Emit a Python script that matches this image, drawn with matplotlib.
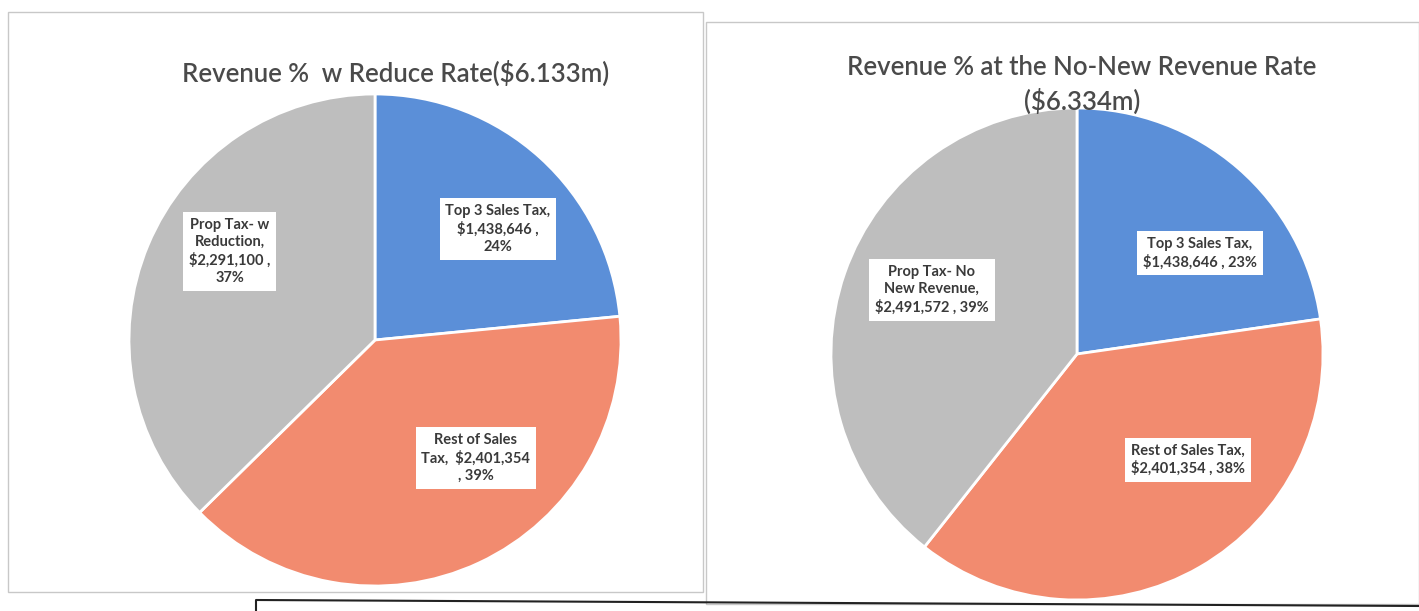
import matplotlib
matplotlib.use("Agg")
import matplotlib.pyplot as plt
from matplotlib.patches import Rectangle
from matplotlib.lines import Line2D

# ---- data ----
categories_left = ["Top 3 Sales Tax", "Rest of Sales Tax", "Prop Tax- w Reduction"]
values_left = [1438646, 2401354, 2291100]
labels_left = ["Top 3 Sales Tax,\n$1,438,646 ,\n24%",
               "Rest of Sales\nTax,  $2,401,354\n, 39%",
               "Prop Tax- w\nReduction,\n$2,291,100 ,\n37%"]
title_left = "Revenue %  w Reduce Rate($6.133m)"

categories_right = ["Top 3 Sales Tax", "Rest of Sales Tax", "Prop Tax- No New Revenue"]
values_right = [1438646, 2401354, 2491572]
labels_right = ["Top 3 Sales Tax,\n$1,438,646 , 23%",
                "Rest of Sales Tax,\n$2,401,354 , 38%",
                "Prop Tax- No\nNew Revenue,\n$2,491,572 , 39%"]
title_right = "Revenue % at the No-New Revenue Rate\n($6.334m)"

colors = ["#5B8FD8", "#F28B6F", "#BEBEBE"]

# label placement (in pie-radius units)
label_pos_left = [(0.50, 0.45), (0.41, -0.48), (-0.59, 0.36)]
label_pos_right = [(0.50, 0.41), (0.45, -0.43), (-0.59, 0.26)]

W, H = 1419, 611
fig = plt.figure(figsize=(W / 100, H / 100), dpi=100)
fig.patch.set_facecolor("white")

FONT = ["Lato", "DejaVu Sans"]

def px_axes(cx, cy, r):
    return fig.add_axes([(cx - r) / W, (H - cy - r) / H, 2 * r / W, 2 * r / H])

# chart frames
fig.add_artist(Rectangle((8 / W, (H - 592) / H), (703 - 8) / W, (592 - 12) / H,
                         transform=fig.transFigure, fill=False, edgecolor="#c8c8c8", lw=1))
fig.add_artist(Rectangle((706 / W, (H - 604) / H), (1419 - 706) / W, (604 - 22) / H,
                         transform=fig.transFigure, fill=False, edgecolor="#c8c8c8", lw=1))
fig.add_artist(Line2D([256 / W, 256 / W, 1419 / W], [0, (H - 600) / H, (H - 606) / H],
                      transform=fig.transFigure, color="#222222", lw=1.5))

def draw(ax, values, labels, positions):
    ax.pie(values, colors=colors, startangle=90, counterclock=False, radius=1,
           wedgeprops=dict(edgecolor="white", linewidth=2))
    ax.set_xlim(-1, 1)
    ax.set_ylim(-1, 1)
    ax.set_aspect("equal")
    ax.axis("off")
    for lab, (x, y) in zip(labels, positions):
        ax.text(x, y, lab, ha="center", va="center", fontsize=10.5, family=FONT,
                weight="bold", color="#3a3a3a", linespacing=1.3,
                bbox=dict(boxstyle="square,pad=0.4", facecolor="white", edgecolor="none"))

axL = px_axes(375, 340, 246)
draw(axL, values_left, labels_left, label_pos_left)
axR = px_axes(1077, 354, 246)
draw(axR, values_right, labels_right, label_pos_right)

fig.text(396 / W, 1 - 74 / H, title_left, ha="center", va="center", fontsize=18.5,
         family=FONT, weight="semibold", color="#4a4a4a")
fig.text(1082 / W, 1 - 85 / H, title_right, ha="center", va="center", fontsize=18.5,
         family=FONT, weight="semibold", color="#4a4a4a", linespacing=1.38)

fig.savefig("out.png", dpi=100)
